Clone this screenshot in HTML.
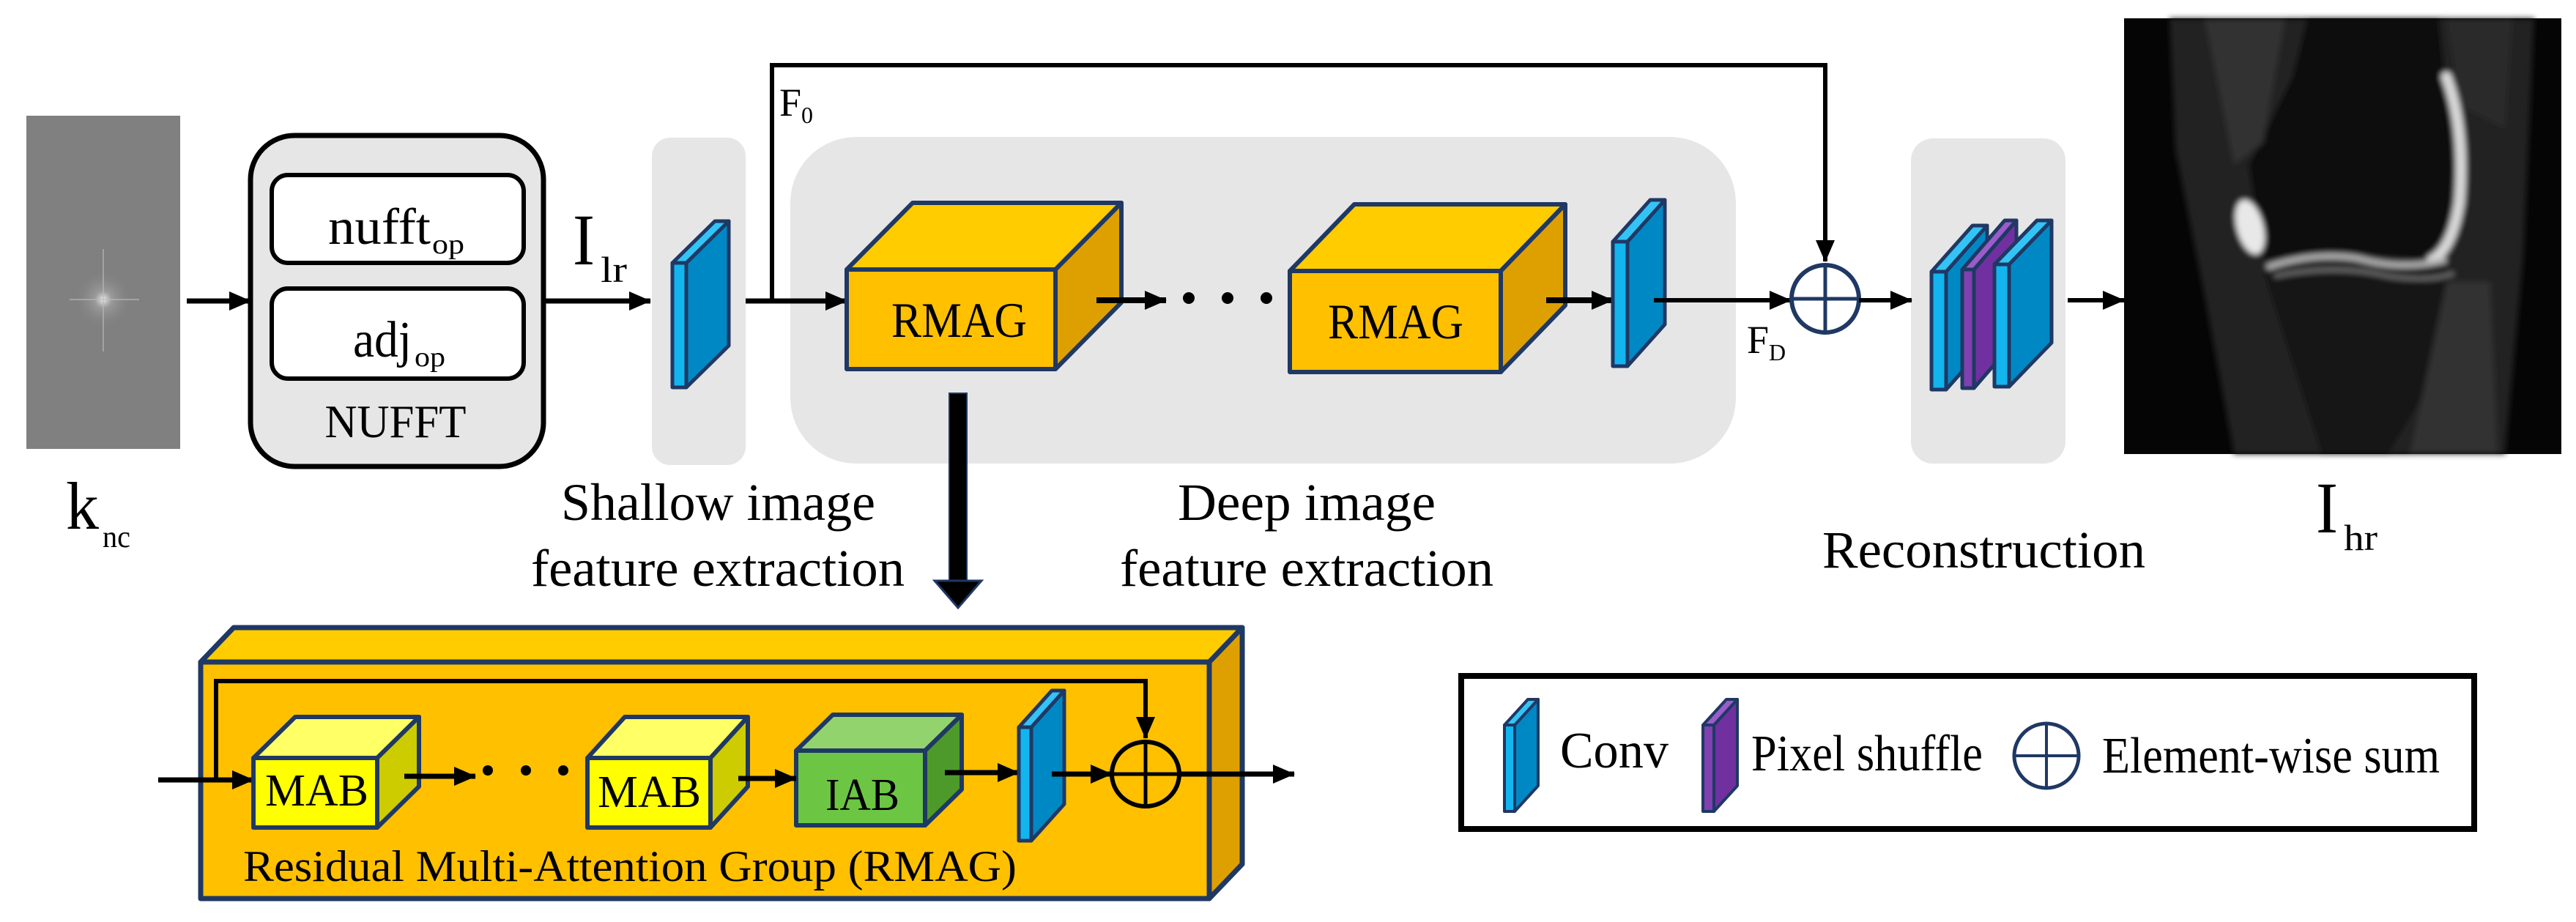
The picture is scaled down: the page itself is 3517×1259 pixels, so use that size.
<!DOCTYPE html>
<html><head><meta charset="utf-8"><style>
html,body{margin:0;padding:0;background:#fff;}
svg{display:block;}
text{font-family:"Liberation Serif","DejaVu Serif",serif;fill:#000;}
</style></head><body>
<svg width="3517" height="1259" viewBox="0 0 3517 1259" xmlns="http://www.w3.org/2000/svg" font-family="'Liberation Serif', 'DejaVu Serif', serif">
<defs>
<marker id="ahs" markerWidth="30" markerHeight="30" refX="29" refY="15" orient="auto" markerUnits="userSpaceOnUse" viewBox="0 0 30 30">
<path d="M0,2 L30,15 L0,28 z" fill="#000"/></marker>
<radialGradient id="star" cx="0.5" cy="0.5" r="0.5">
<stop offset="0" stop-color="#eee"/><stop offset="0.3" stop-color="#aaa" stop-opacity="0.6"/><stop offset="1" stop-color="#808080" stop-opacity="0"/></radialGradient>
<filter id="blur4"><feGaussianBlur stdDeviation="4"/></filter>
</defs>

<rect x="36" y="158" width="210" height="455" fill="#808080"/>
<ellipse cx="141" cy="409" rx="40" ry="40" fill="url(#star)"/>
<line x1="141" y1="340" x2="141" y2="480" stroke="#bbb" stroke-width="2" opacity="0.6"/>
<line x1="95" y1="409" x2="190" y2="409" stroke="#bbb" stroke-width="2" opacity="0.6"/>
<text x="90" y="722" font-size="92" textLength="45" lengthAdjust="spacingAndGlyphs">k</text><text x="140" y="747" font-size="42" textLength="38" lengthAdjust="spacingAndGlyphs">nc</text>

<line x1="255" y1="411" x2="342" y2="411" stroke="#000" stroke-width="7" marker-end="url(#ahs)"/>

<rect x="342" y="185" width="400" height="452" rx="60" fill="#e6e6e6" stroke="#000" stroke-width="7"/>
<rect x="371" y="239" width="344" height="120" rx="22" fill="#fff" stroke="#000" stroke-width="6"/>
<rect x="371" y="394" width="344" height="123" rx="22" fill="#fff" stroke="#000" stroke-width="6"/>
<text x="448" y="333" font-size="70" textLength="140" lengthAdjust="spacingAndGlyphs">nufft</text><text x="590" y="346" font-size="38" textLength="44" lengthAdjust="spacingAndGlyphs">op</text>
<text x="482" y="487" font-size="70" textLength="80" lengthAdjust="spacingAndGlyphs">adj</text><text x="566" y="500" font-size="38" textLength="42" lengthAdjust="spacingAndGlyphs">op</text>
<text x="540" y="597" font-size="64" text-anchor="middle" fill="#222" textLength="193" lengthAdjust="spacingAndGlyphs">NUFFT</text>

<line x1="742" y1="411" x2="888" y2="411" stroke="#000" stroke-width="7" marker-end="url(#ahs)"/>
<text x="782" y="361" font-size="100" textLength="30" lengthAdjust="spacingAndGlyphs">I</text><text x="820" y="385" font-size="50" textLength="36" lengthAdjust="spacingAndGlyphs">lr</text>

<rect x="890" y="188" width="128" height="447" rx="25" fill="#e6e6e6"/>
<rect x="1079" y="187" width="1291" height="446" rx="90" fill="#e6e6e6"/>
<rect x="2609" y="189" width="211" height="444" rx="30" fill="#e6e6e6"/>

<polyline points="1054,411 1054,89 2492,89 2492,357" fill="none" stroke="#000" stroke-width="6" marker-end="url(#ahs)"/>
<text x="1064" y="158" font-size="54">F<tspan font-size="32" dy="10">0</tspan></text>

<g stroke="#1f3864" stroke-width="5" stroke-linejoin="round">
<polygon points="937,359 995,302 995,472 937,529" fill="#0088c4"/>
<polygon points="918,359 976,302 995,302 937,359" fill="#33c4f5"/>
<rect x="918" y="359" width="19" height="170" fill="#12b5ee"/>
</g>
<line x1="1018" y1="411" x2="1156" y2="411" stroke="#000" stroke-width="7" marker-end="url(#ahs)"/>

<g stroke="#1f3864" stroke-width="6" stroke-linejoin="round">
<polygon points="1156,368 1246,277 1531,277 1441,368" fill="#ffcc00"/>
<polygon points="1441,368 1531,277 1531,413 1441,504" fill="#dea000"/>
<rect x="1156" y="368" width="285" height="136" fill="#ffc000"/>
<polygon points="1761,370 1849,279 2137,279 2049,370" fill="#ffcc00"/>
<polygon points="2049,370 2137,279 2137,417 2049,508" fill="#dea000"/>
<rect x="1761" y="370" width="288" height="138" fill="#ffc000"/>
</g>
<text x="1217" y="460" font-size="68" textLength="185" lengthAdjust="spacingAndGlyphs">RMAG</text>
<text x="1813" y="462" font-size="68" textLength="185" lengthAdjust="spacingAndGlyphs">RMAG</text>
<line x1="1497" y1="410" x2="1592" y2="410" stroke="#000" stroke-width="8" marker-end="url(#ahs)"/>
<circle cx="1623" cy="407" r="8"/><circle cx="1676" cy="407" r="8"/><circle cx="1729" cy="407" r="8"/>
<line x1="2111" y1="410" x2="2202" y2="410" stroke="#000" stroke-width="8" marker-end="url(#ahs)"/>

<g stroke="#1f3864" stroke-width="5" stroke-linejoin="round">
<polygon points="2222,330 2273,273 2273,443 2222,500" fill="#0088c4"/>
<polygon points="2202,330 2253,273 2273,273 2222,330" fill="#33c4f5"/>
<rect x="2202" y="330" width="20" height="170" fill="#12b5ee"/>
</g>
<line x1="2258" y1="410" x2="2445" y2="410" stroke="#000" stroke-width="6" marker-end="url(#ahs)"/>
<text x="2385" y="482" font-size="54">F<tspan font-size="32" dy="10">D</tspan></text>

<circle cx="2492" cy="408" r="46" fill="none" stroke="#1f3864" stroke-width="6"/>
<line x1="2446" y1="408" x2="2538" y2="408" stroke="#1f3864" stroke-width="5"/>
<line x1="2492" y1="362" x2="2492" y2="454" stroke="#1f3864" stroke-width="5"/>
<line x1="2538" y1="410" x2="2610" y2="410" stroke="#000" stroke-width="6" marker-end="url(#ahs)"/>

<g stroke="#1f3864" stroke-width="5" stroke-linejoin="round">
<polygon points="2657,371 2713,308 2713,469 2657,532" fill="#0088c4"/>
<polygon points="2637,371 2693,308 2713,308 2657,371" fill="#33c4f5"/>
<rect x="2637" y="371" width="20" height="161" fill="#12b5ee"/>
<polygon points="2695,368 2753,301 2753,463 2695,530" fill="#7030a0"/>
<polygon points="2679,368 2737,301 2753,301 2695,368" fill="#9a5cc8"/>
<rect x="2679" y="368" width="16" height="162" fill="#8040b0"/>
<polygon points="2743,361 2801,301 2801,468 2743,528" fill="#0088c4"/>
<polygon points="2723,361 2781,301 2801,301 2743,361" fill="#33c4f5"/>
<rect x="2723" y="361" width="20" height="167" fill="#12b5ee"/>
</g>
<line x1="2823" y1="410" x2="2900" y2="410" stroke="#000" stroke-width="6" marker-end="url(#ahs)"/>

<g transform="translate(2900,25)">
<rect width="597" height="595" fill="#050505"/>
<g filter="url(#blur4)">
<path d="M62,0 L560,0 L545,330 L520,595 L150,595 L110,380 L70,180 Z" fill="#242424"/>
<path d="M250,0 L430,0 L450,200 L440,330 L360,325 L300,320 L190,330 L170,200 L230,80 Z" fill="#101010"/>
<path d="M190,345 L440,345 L460,420 L430,480 L360,595 L270,595 L230,470 Z" fill="#121212"/>
<path d="M440,360 L500,360 L510,595 L390,595 Z" fill="#303030"/>
<path d="M110,0 L220,0 L190,170 L150,200 Z" fill="#333"/>
<path d="M440,0 L530,0 L520,150 L460,120 Z" fill="#2c2c2c"/>
<ellipse cx="172" cy="285" rx="18" ry="38" fill="#e8e8e8" transform="rotate(-15 172 285)"/>
<path d="M440,80 Q466,150 458,250 Q448,315 420,330" fill="none" stroke="#d8d8d8" stroke-width="14" stroke-linecap="round"/>
<path d="M195,340 Q260,318 320,328 Q380,345 440,330" fill="none" stroke="#b0b0b0" stroke-width="8"/>
<path d="M205,352 Q290,335 360,352 Q420,360 450,348" fill="none" stroke="#707070" stroke-width="5"/>
</g>
</g>
<text x="3162" y="727" font-size="100" textLength="30" lengthAdjust="spacingAndGlyphs">I</text><text x="3200" y="751" font-size="50" textLength="46" lengthAdjust="spacingAndGlyphs">hr</text>

<text x="766" y="710" font-size="72" textLength="429" lengthAdjust="spacingAndGlyphs">Shallow image</text>
<text x="725" y="800" font-size="72" textLength="510" lengthAdjust="spacingAndGlyphs">feature extraction</text>
<text x="1608" y="710" font-size="72" textLength="352" lengthAdjust="spacingAndGlyphs">Deep image</text>
<text x="1529" y="800" font-size="72" textLength="510" lengthAdjust="spacingAndGlyphs">feature extraction</text>
<text x="2488" y="775" font-size="72" textLength="441" lengthAdjust="spacingAndGlyphs">Reconstruction</text>

<rect x="1296" y="537" width="24" height="258" fill="#000" stroke="#1f3864" stroke-width="2"/>
<polygon points="1276,793 1340,793 1308,830" fill="#000" stroke="#1f3864" stroke-width="3"/>

<g stroke="#1f3864" stroke-width="7" stroke-linejoin="round">
<polygon points="274,904 319,857 1696,857 1651,904" fill="#ffcc00"/>
<polygon points="1651,904 1696,857 1696,1180 1651,1227" fill="#dea000"/>
<rect x="274" y="904" width="1377" height="323" fill="#ffc000"/>
</g>
<polyline points="295,1063 295,930 1564,930 1564,1008" fill="none" stroke="#000" stroke-width="6" marker-end="url(#ahs)"/>
<line x1="216" y1="1065" x2="346" y2="1065" stroke="#000" stroke-width="7" marker-end="url(#ahs)"/>

<g stroke="#1f3864" stroke-width="6" stroke-linejoin="round">
<polygon points="346,1035 403,979 572,979 515,1035" fill="#ffff66"/>
<polygon points="515,1035 572,979 572,1074 515,1130" fill="#cccc00"/>
<rect x="346" y="1035" width="169" height="95" fill="#ffff00"/>
<polygon points="802,1035 853,979 1021,979 970,1035" fill="#ffff66"/>
<polygon points="970,1035 1021,979 1021,1074 970,1130" fill="#cccc00"/>
<rect x="802" y="1035" width="168" height="95" fill="#ffff00"/>
<polygon points="1087,1025 1137,976 1313,976 1263,1025" fill="#92d36e"/>
<polygon points="1263,1025 1313,976 1313,1078 1263,1127" fill="#4d9a2a"/>
<rect x="1087" y="1025" width="176" height="102" fill="#6cc644"/>
</g>
<text x="362" y="1100" font-size="62" textLength="141" lengthAdjust="spacingAndGlyphs">MAB</text>
<text x="816" y="1102" font-size="62" textLength="141" lengthAdjust="spacingAndGlyphs">MAB</text>
<text x="1127" y="1106" font-size="62" textLength="101" lengthAdjust="spacingAndGlyphs">IAB</text>
<line x1="552" y1="1060" x2="649" y2="1060" stroke="#000" stroke-width="7" marker-end="url(#ahs)"/>
<circle cx="666" cy="1052" r="7"/><circle cx="718" cy="1052" r="7"/><circle cx="769" cy="1052" r="7"/>
<line x1="1008" y1="1063" x2="1087" y2="1063" stroke="#000" stroke-width="7" marker-end="url(#ahs)"/>
<line x1="1290" y1="1055" x2="1391" y2="1055" stroke="#000" stroke-width="7" marker-end="url(#ahs)"/>
<g stroke="#1f3864" stroke-width="5" stroke-linejoin="round">
<polygon points="1408,993 1453,943 1453,1098 1408,1148" fill="#0088c4"/>
<polygon points="1391,993 1436,943 1453,943 1408,993" fill="#33c4f5"/>
<rect x="1391" y="993" width="17" height="155" fill="#12b5ee"/>
</g>
<line x1="1436" y1="1057" x2="1518" y2="1057" stroke="#000" stroke-width="7" marker-end="url(#ahs)"/>
<ellipse cx="1564" cy="1057" rx="46" ry="44" fill="none" stroke="#000" stroke-width="6"/>
<line x1="1518" y1="1057" x2="1610" y2="1057" stroke="#000" stroke-width="5"/>
<line x1="1564" y1="1013" x2="1564" y2="1101" stroke="#000" stroke-width="5"/>
<line x1="1610" y1="1057" x2="1767" y2="1057" stroke="#000" stroke-width="7" marker-end="url(#ahs)"/>
<text x="332" y="1203" font-size="60" textLength="1056" lengthAdjust="spacingAndGlyphs">Residual Multi-Attention Group (RMAG)</text>

<rect x="1995" y="923" width="1383" height="209" fill="#fff" stroke="#000" stroke-width="8"/>
<g stroke="#1f3864" stroke-width="4" stroke-linejoin="round">
<polygon points="2068,990 2100,955 2100,1073 2068,1108" fill="#0088c4"/>
<polygon points="2054,990 2086,955 2100,955 2068,990" fill="#33c4f5"/>
<rect x="2054" y="990" width="14" height="118" fill="#12b5ee"/>
<polygon points="2340,990 2372,955 2372,1073 2340,1108" fill="#7030a0"/>
<polygon points="2325,990 2357,955 2372,955 2340,990" fill="#9a5cc8"/>
<rect x="2325" y="990" width="15" height="118" fill="#8040b0"/>
</g>
<text x="2130" y="1048" font-size="70" textLength="148" lengthAdjust="spacingAndGlyphs">Conv</text>
<text x="2391" y="1052" font-size="70" textLength="316" lengthAdjust="spacingAndGlyphs">Pixel shuffle</text>
<circle cx="2794" cy="1032" r="44" fill="none" stroke="#1f3864" stroke-width="5"/>
<line x1="2750" y1="1032" x2="2838" y2="1032" stroke="#1f3864" stroke-width="4"/>
<line x1="2794" y1="988" x2="2794" y2="1076" stroke="#1f3864" stroke-width="4"/>
<text x="2870" y="1055" font-size="70" textLength="461" lengthAdjust="spacingAndGlyphs">Element-wise sum</text>
</svg>
</body></html>
